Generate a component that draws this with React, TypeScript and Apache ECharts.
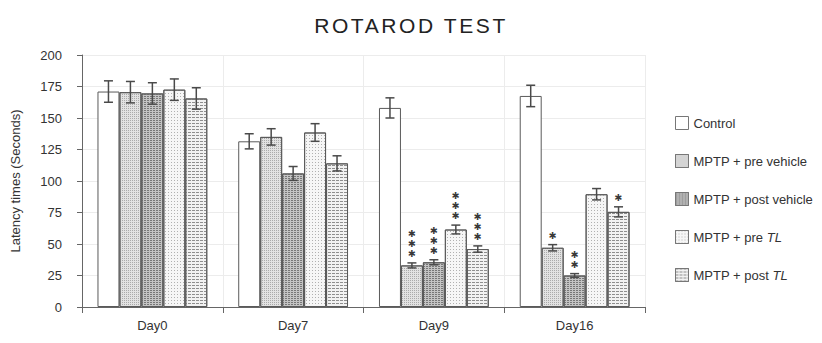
import React, { useEffect, useRef } from "react";
import * as echarts from "echarts";

const categories = ["Day0", "Day7", "Day9", "Day16"];
const seriesNames = [
  "Control",
  "MPTP + pre vehicle",
  "MPTP + post vehicle",
  "MPTP + pre TL",
  "MPTP + post TL",
];
const control = [171, 131.5, 158, 167.5];
const preVehicle = [170.5, 135, 33, 47];
const postVehicle = [169.5, 106, 35.5, 25];
const preTL = [172.5, 138.5, 61.5, 89.5];
const postTL = [165.5, 114, 46, 75.5];

const controlErr = [8.5, 6, 8, 8.5];
const preVehicleErr = [8.5, 6.5, 2, 2.5];
const postVehicleErr = [8.5, 5.5, 2, 1.5];
const preTLErr = [8.5, 7, 3.5, 4.5];
const postTLErr = [8.5, 6, 2.5, 4];

const controlStars = [0, 0, 0, 0];
const preVehicleStars = [0, 0, 3, 1];
const postVehicleStars = [0, 0, 3, 2];
const preTLStars = [0, 0, 3, 0];
const postTLStars = [0, 0, 3, 1];

const values = [control, preVehicle, postVehicle, preTL, postTL];
const errs = [controlErr, preVehicleErr, postVehicleErr, preTLErr, postTLErr];
const stars = [controlStars, preVehicleStars, postVehicleStars, preTLStars, postTLStars];

const GAP = 0.22;
const FONT = "Liberation Sans, Arial, sans-serif";

const fills = ["#ffffff", "#e2e2e2", "#c4c4c4", "#f6f6f6", "#f2f2f2"];
const decals: any[] = [
  null,
  { symbol: "rect", symbolSize: 1, color: "#aaaaaa", dashArrayX: [1, 1], dashArrayY: [1, 1], rotation: 0 },
  { symbol: "rect", symbolSize: 1, color: "#777777", dashArrayX: [[2, 1]], dashArrayY: [1, 1], rotation: 0 },
  { symbol: "rect", symbolSize: 1, color: "#b0b0b0", dashArrayX: [1, 2], dashArrayY: [1, 2], rotation: 0 },
  { symbol: "rect", symbolSize: 1, color: "#8e8e8e", dashArrayX: [[3, 1]], dashArrayY: [1, 2], rotation: 0 },
];

export default function App() {
  const ref = useRef<HTMLDivElement>(null);
  useEffect(() => {
    const chart = echarts.init(ref.current!, null, { renderer: "svg" });

    const barSeries = seriesNames.map((name, i) => {
      const itemStyle: any = { color: fills[i], borderColor: "#5a5a5a", borderWidth: 1 };
      if (decals[i]) itemStyle.decal = decals[i];
      return {
        name,
        type: "bar",
        data: values[i],
        barGap: "0%",
        barCategoryGap: GAP * 100 + "%",
        itemStyle,
        emphasis: { disabled: true },
      };
    });

    const errData: any[] = [];
    for (let s = 0; s < 5; s++) {
      for (let c = 0; c < categories.length; c++) {
        errData.push([c, s, values[s][c], errs[s][c], stars[s][c]]);
      }
    }

    const errSeries = {
      type: "custom",
      silent: true,
      z: 10,
      data: errData,
      encode: { x: 0, y: 2 },
      renderItem: (params: any, api: any) => {
        const c = api.value(0);
        const s = api.value(1);
        const v = api.value(2);
        const e = api.value(3);
        const n = api.value(4);
        const band = api.size([1, 0])[0];
        const total = band * (1 - GAP);
        const bw = total / 5;
        const center = api.coord([c, v]);
        const x = center[0] - total / 2 + bw * (s + 0.5);
        const yTop = api.coord([c, v + e])[1];
        const yBot = api.coord([c, v - e])[1];
        const cap = 4.5;
        const style = { stroke: "#4a4a4a", lineWidth: 1.5 };
        const children: any[] = [
          { type: "line", shape: { x1: x, y1: yTop, x2: x, y2: yBot }, style },
          { type: "line", shape: { x1: x - cap, y1: yTop, x2: x + cap, y2: yTop }, style },
          { type: "line", shape: { x1: x - cap, y1: yBot, x2: x + cap, y2: yBot }, style },
        ];
        for (let k = 0; k < n; k++) {
          children.push({
            type: "text",
            style: {
              text: "✱",
              x,
              y: yTop - 9.5 - k * 10,
              textAlign: "center",
              textVerticalAlign: "middle",
              fill: "#3a3a3a",
              font: "9.5px DejaVu Sans, sans-serif",
            },
          });
        }
        return { type: "group", children };
      },
    };

    chart.setOption({
      animation: false,
      textStyle: { fontFamily: FONT },
      title: {
        text: "ROTAROD TEST",
        left: "center",
        top: 10,
        textStyle: { fontSize: 21, fontWeight: "normal", color: "#222", fontFamily: "Arimo, Liberation Sans, Arial, sans-serif" },
      },
      legend: {
        orient: "vertical",
        left: 670,
        top: 111,
        icon: "rect",
        itemWidth: 13,
        itemHeight: 13,
        itemGap: 24,
        data: seriesNames,
        selectedMode: false,
        itemStyle: { borderColor: "#777", borderWidth: 1 },
        textStyle: {
          fontSize: 13,
          color: "#333",
          rich: { i: { fontStyle: "italic", fontSize: 13, color: "#333" } },
        },
        formatter: (name: string) =>
          name.endsWith(" TL") ? name.replace(/ TL$/, " {i|TL}") : name,
      },
      grid: { left: 82, right: 177, top: 55, bottom: 36, containLabel: false },
      xAxis: {
        type: "category",
        data: categories,
        axisLine: { lineStyle: { color: "#666", width: 1 } },
        axisTick: { show: true, length: 6, lineStyle: { color: "#666" } },
        axisLabel: { fontSize: 13, color: "#333", margin: 12 },
        splitLine: { show: true, lineStyle: { color: "#ececec" } },
      },
      yAxis: {
        type: "value",
        min: 0,
        max: 200,
        interval: 25,
        name: "Latency times (Seconds)",
        nameLocation: "middle",
        nameGap: 60,
        nameRotate: 90,
        nameTextStyle: { fontSize: 13, color: "#333" },
        axisLine: { show: true, lineStyle: { color: "#666" } },
        axisTick: { show: true, length: 5, lineStyle: { color: "#666" } },
        axisLabel: { fontSize: 13, color: "#333", margin: 20 },
        splitLine: { lineStyle: { color: "#ececec" } },
      },
      series: [...barSeries, errSeries],
    });
    return () => chart.dispose();
  }, []);
  return (
    <>
      <style>{`text[style*="Arimo"], text[font-family*="Arimo"] { letter-spacing: 2.6px; }`}</style>
      <div ref={ref} style={{ width: 822, height: 343, marginLeft: -8, marginTop: -8 }} />
    </>
  );
}
